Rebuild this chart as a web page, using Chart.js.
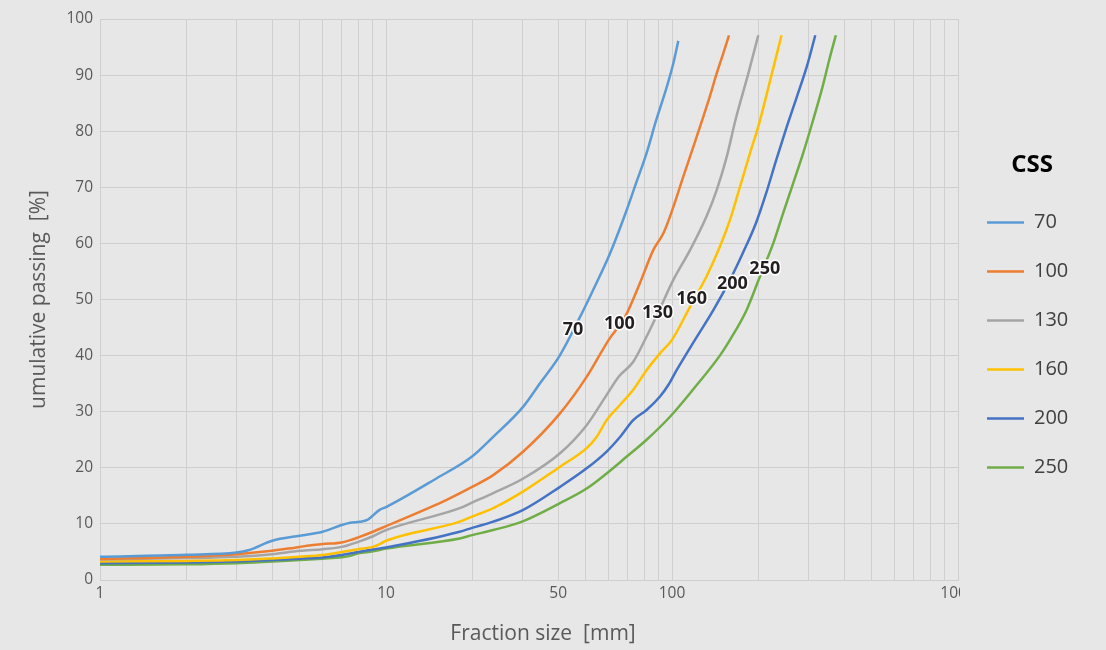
<!DOCTYPE html>
<html>
<head>
<meta charset="utf-8">
<script src="https://cdn.jsdelivr.net/npm/chart.js@4.4.1/dist/chart.umd.min.js"></script>
<style>
  html, body { margin: 0; padding: 0; background: #E7E7E7; }
  #wrap { width: 1106px; height: 650px; position: relative; }
</style>
</head>
<body>
<div id="wrap"><canvas id="c"></canvas></div>
<script>
// ---- Data (fraction size in mm, cumulative passing in %) ----
const seriesNames = ['70', '100', '130', '160', '200', '250'];
const seriesColors = ['#5B9BD5', '#ED7D31', '#A5A5A5', '#FFC000', '#4472C4', '#70AD47'];

const x70 = [1, 2, 3, 3.3, 4, 5, 6, 7, 7.5, 8.1, 8.6, 9.5, 10, 15, 20, 23.7, 30.2, 34.6, 40.6, 47.7, 53, 60.7, 69.5, 75.2, 81.5, 88.1, 95.9, 101.1, 105.2];
const y70 = [4.15, 4.5, 4.9, 5.3, 7.0, 7.9, 8.6, 9.8, 10.2, 10.4, 10.7, 12.5, 13.0, 18.1, 22.0, 25.5, 30.9, 35.1, 40.1, 46.9, 51.7, 58.2, 66.0, 71.0, 76.1, 82.0, 87.9, 92.1, 96.1];

const x100 = [1, 2, 3, 4, 5, 6, 7, 7.5, 8, 9, 10, 16.3, 20, 23.7, 30.2, 40.6, 50.3, 60.1, 68.5, 77.2, 86, 93.3, 101.1, 109.5, 118.7, 128.7, 135.8, 143.3, 151.2, 158.2];
const y100 = [3.75, 4.15, 4.6, 5.2, 5.9, 6.4, 6.7, 7.1, 7.6, 8.6, 9.6, 14.3, 16.6, 18.7, 22.9, 29.7, 36.2, 42.8, 46.9, 52.9, 58.8, 61.8, 66.5, 71.9, 77.2, 82.6, 86.3, 90.3, 93.9, 97.1];

const x130 = [1, 2, 3, 4, 5, 6, 7, 8, 9, 10, 18.1, 20, 23.7, 30.2, 40.6, 50.3, 59.1, 65, 73.2, 81.5, 90, 101.1, 115.6, 132, 143.3, 155.5, 166.7, 184.9, 200.3];
const y130 = [3.65, 3.9, 4.15, 4.6, 5.2, 5.5, 5.9, 6.8, 7.8, 8.9, 12.8, 13.8, 15.5, 18.1, 22.6, 27.6, 33.0, 36.2, 38.9, 43.4, 48.0, 53.5, 58.8, 64.8, 69.5, 75.5, 82.0, 90.3, 97.1];

const x160 = [1, 2, 3, 4, 5, 6, 7, 8, 9, 9.5, 10, 18.1, 20, 23.7, 30, 40.6, 50.3, 54.5, 59.1, 65.8, 73.2, 81.5, 90.8, 100, 115.6, 132, 147, 159.5, 172.9, 187.4, 200.3, 222.8, 241.5];
const y160 = [3.3, 3.4, 3.55, 3.85, 4.15, 4.45, 5.0, 5.5, 5.9, 6.4, 7.0, 10.4, 11.3, 12.8, 15.7, 20.2, 23.5, 25.5, 28.5, 31.2, 33.9, 37.4, 40.4, 42.8, 48.7, 54.1, 59.4, 64.2, 70.1, 76.1, 80.8, 90.0, 97.1];

const x200 = [1, 2, 3, 4, 5, 6, 7, 8, 9, 10, 18.1, 20, 23.7, 30.2, 40.6, 50.3, 59.1, 65.8, 73.2, 81.5, 90.8, 97.2, 103.8, 120.3, 139.5, 159.5, 176.6, 196.5, 213.3, 231.5, 252, 272.7, 296, 317];
const y200 = [3.0, 3.1, 3.3, 3.55, 3.8, 4.0, 4.45, 5.0, 5.45, 5.8, 8.6, 9.3, 10.4, 12.5, 16.6, 19.9, 22.9, 25.5, 28.5, 30.3, 32.7, 34.8, 37.4, 42.8, 48.1, 53.5, 58.2, 63.6, 68.9, 74.9, 80.8, 86.0, 91.5, 97.1];

const x250 = [1, 2, 3, 4, 5, 6, 7, 7.5, 8, 9, 10, 18.1, 20, 23.7, 30.2, 40.6, 50.3, 59.1, 69.5, 81.5, 98.4, 118.7, 147, 159.5, 182.2, 203, 225.9, 244.7, 265.2, 287.5, 311.5, 336, 354.6, 374];
const y250 = [2.7, 2.8, 3.0, 3.3, 3.55, 3.8, 4.05, 4.3, 4.75, 5.1, 5.6, 7.4, 8.0, 8.9, 10.5, 13.7, 16.3, 19.0, 22.0, 25.0, 29.1, 34.0, 40.0, 42.8, 48.1, 54.1, 60.0, 65.4, 70.7, 76.1, 82.0, 87.9, 92.7, 97.1];

const seriesX = [x70, x100, x130, x160, x200, x250];
const seriesY = [y70, y100, y130, y160, y200, y250];

// Inline curve labels (data coordinates)
const labelX = [45.1, 65.5, 89.0, 117.2, 162.7, 211.1];
const labelY = [44.5, 45.6, 47.6, 50.1, 52.8, 55.5];

// Axis ticks
const xGridValues = [1,2,3,4,5,6,7,8,9,10,20,30,40,50,60,70,80,90,100,200,300,400,500,600,700,800,900,1000];
const xTickValues = [1, 10, 40, 100, 1000];
const xTickLabels = ['1', '10', '50', '100', '1000'];
const yTicks = [0, 10, 20, 30, 40, 50, 60, 70, 80, 90, 100];

const FONT = "'Open Sans', 'Noto Sans', sans-serif";
const GRID = '#CFCFCF';
const TXT = '#595959';

const datasets = seriesNames.map((name, i) => ({
  label: name,
  data: seriesX[i].map((x, j) => ({ x: x, y: seriesY[i][j] })),
  borderColor: seriesColors[i],
  backgroundColor: seriesColors[i],
  borderWidth: 2.5,
  pointRadius: 0,
  showLine: true,
  fill: false,
  cubicInterpolationMode: 'monotone'
}));

const layoutPatch = {
  id: 'layoutPatch',
  beforeLayout(chart) {
    const lg = chart.legend;
    if (lg && !lg._patched) {
      const fit = lg.fit;
      lg.fit = function () { fit.call(this); this.width = 148; };
      const dt = lg._drawTitle;
      lg._drawTitle = function () {
        const c = this.ctx; c.save(); c.translate(13, 0); dt.call(this); c.restore();
      };
      lg._patched = true;
    }
  },
  beforeDraw(chart) {
    const sx = chart.scales.x;
    if (sx && !sx._clipPatched) {
      const orig = sx.drawLabels;
      sx.drawLabels = function (area) {
        const c = this.ctx;
        c.save();
        c.beginPath();
        c.rect(0, 0, this.chart.chartArea.right + 2, this.chart.height);
        c.clip();
        orig.call(this, area);
        c.restore();
      };
      const ot = sx.drawTitle;
      sx.drawTitle = function () {
        const c = this.ctx; c.save(); c.translate(14, 0); ot.call(this); c.restore();
      };
      sx._clipPatched = true;
    }
  }
};

const curveLabels = {
  id: 'curveLabels',
  afterDatasetsDraw(chart) {
    const c = chart.ctx, sx = chart.scales.x, sy = chart.scales.y;
    c.save();
    c.font = "bold 18px " + FONT;
    c.textAlign = 'center';
    c.textBaseline = 'middle';
    c.lineJoin = 'round';
    seriesNames.forEach((name, i) => {
      const px = sx.getPixelForValue(labelX[i]);
      const py = sy.getPixelForValue(labelY[i]);
      c.strokeStyle = '#FFFFFF';
      c.lineWidth = 3;
      c.strokeText(name, px, py);
      c.fillStyle = '#231F20';
      c.fillText(name, px, py);
    });
    c.restore();
  }
};

new Chart(document.getElementById('c'), {
  type: 'scatter',
  data: { datasets },
  options: {
    responsive: true,
    maintainAspectRatio: false,
    animation: false,
    layout: { padding: { top: 19, right: 0, bottom: 0, left: 0 } },
    plugins: {
      tooltip: { enabled: false },
      legend: {
        position: 'right',
        align: 'start',
        title: {
          display: true,
          text: 'CSS',
          color: '#000000',
          font: { family: FONT, size: 24, weight: 'bold', lineHeight: 1 },
          padding: { top: 134, bottom: 6.5 }
        },
        labels: {
          usePointStyle: true,
          pointStyle: 'line',
          pointStyleWidth: 37,
          padding: 29,
          color: '#404040',
          font: { family: FONT, size: 20 }
        }
      }
    },
    scales: {
      x: {
        type: 'logarithmic',
        min: 1,
        max: 1000,
        afterBuildTicks(scale) { scale.ticks = xGridValues.map(v => ({ value: v })); },
        afterFit(scale) { scale.height = 70; },
        ticks: {
          autoSkip: false,
          maxRotation: 0,
          minRotation: 0,
          padding: 4,
          color: TXT,
          font: { family: FONT, size: 15.5 },
          callback(value) {
            const k = xTickValues.indexOf(value);
            return k >= 0 ? xTickLabels[k] : '';
          }
        },
        grid: { color: GRID, lineWidth: 1, drawTicks: false },
        border: { color: GRID, width: 1 },
        title: {
          display: true,
          text: 'Fraction size  [mm]',
          color: TXT,
          font: { family: FONT, size: 21 },
          padding: { top: 0, bottom: 3.5 }
        }
      },
      y: {
        type: 'linear',
        min: 0,
        max: 100,
        afterBuildTicks(scale) { scale.ticks = yTicks.map(v => ({ value: v })); },
        afterFit(scale) { scale.width = 100; },
        ticks: {
          padding: 7,
          color: TXT,
          font: { family: FONT, size: 15.5 }
        },
        grid: { color: GRID, lineWidth: 1, drawTicks: false },
        border: { color: GRID, width: 1 },
        title: {
          display: true,
          text: 'umulative passing  [%]',
          color: TXT,
          font: { family: FONT, size: 21 },
          padding: { top: 26, bottom: 0 }
        }
      }
    }
  },
  plugins: [layoutPatch, curveLabels]
});
</script>
</body>
</html>
